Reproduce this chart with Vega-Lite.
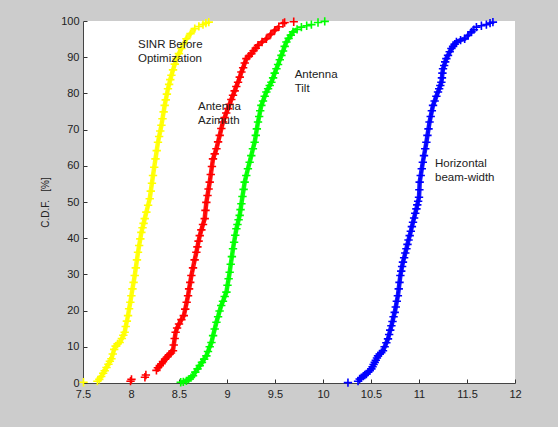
{
  "$schema": "https://vega.github.io/schema/vega-lite/v6.json",
  "width": 432,
  "height": 362,
  "autosize": {"type": "none"},
  "padding": {"left": 83, "top": 21, "right": 43, "bottom": 44},
  "background": "#cccccc",
  "config": {
    "view": {"fill": "white", "stroke": null},
    "font": "Liberation Sans",
    "axis": {
      "grid": false,
      "domainColor": "#444444",
      "tickColor": "#333333",
      "tickSize": -4,
      "labelColor": "#222222",
      "labelFont": "Liberation Sans",
      "labelFontSize": 11,
      "titleFont": "Liberation Sans",
      "titleFontSize": 10,
      "titleFontWeight": "normal",
      "titleColor": "#222222"
    }
  },
  "datasets": {
    "sinr": [
      {"x":7.505,"y":0.2},{"x":7.65,"y":0.5},{"x":7.67,"y":1.0},{"x":7.69,"y":1.8},{"x":7.71,"y":2.7},{"x":7.726,"y":3.4},{"x":7.745,"y":4.3},{"x":7.765,"y":5.2},{"x":7.78,"y":6.0},{"x":7.796,"y":6.7},{"x":7.81,"y":8.0},{"x":7.825,"y":9.3},{"x":7.84,"y":10.2},{"x":7.86,"y":10.8},{"x":7.882,"y":11.2},{"x":7.905,"y":12.3},{"x":7.92,"y":13.2},{"x":7.934,"y":14.0},{"x":7.945,"y":15.6},{"x":7.957,"y":17.1},{"x":7.969,"y":18.6},{"x":7.98,"y":20.5},{"x":7.993,"y":22.3},{"x":8.004,"y":24.1},{"x":8.015,"y":26.0},{"x":8.027,"y":27.8},{"x":8.039,"y":29.7},{"x":8.05,"y":31.8},{"x":8.062,"y":34.0},{"x":8.073,"y":36.1},{"x":8.085,"y":38.0},{"x":8.097,"y":39.8},{"x":8.108,"y":41.6},{"x":8.12,"y":42.9},{"x":8.131,"y":44.1},{"x":8.143,"y":45.4},{"x":8.16,"y":47.2},{"x":8.178,"y":49.1},{"x":8.195,"y":50.9},{"x":8.206,"y":53.0},{"x":8.218,"y":55.2},{"x":8.229,"y":57.3},{"x":8.242,"y":59.6},{"x":8.255,"y":61.9},{"x":8.268,"y":64.2},{"x":8.281,"y":66.5},{"x":8.293,"y":68.1},{"x":8.305,"y":69.6},{"x":8.317,"y":71.2},{"x":8.328,"y":73.0},{"x":8.34,"y":74.9},{"x":8.351,"y":76.7},{"x":8.362,"y":78.2},{"x":8.374,"y":79.8},{"x":8.385,"y":81.3},{"x":8.397,"y":82.5},{"x":8.409,"y":83.8},{"x":8.421,"y":85.0},{"x":8.438,"y":86.5},{"x":8.456,"y":88.1},{"x":8.473,"y":89.6},{"x":8.499,"y":91.0},{"x":8.525,"y":92.4},{"x":8.551,"y":93.8},{"x":8.577,"y":95.1},{"x":8.62,"y":96.5},{"x":8.664,"y":97.9},{"x":8.707,"y":98.5},{"x":8.75,"y":99.0},{"x":8.78,"y":99.4},{"x":8.81,"y":99.7}
    ],
    "azimuth": [
      {"x":7.995,"y":0.5},{"x":8.005,"y":1.0},{"x":8.145,"y":1.6},{"x":8.155,"y":2.2},{"x":8.265,"y":3.5},{"x":8.28,"y":4.2},{"x":8.3,"y":4.8},{"x":8.318,"y":5.3},{"x":8.333,"y":5.9},{"x":8.355,"y":6.6},{"x":8.375,"y":7.2},{"x":8.395,"y":7.8},{"x":8.417,"y":8.3},{"x":8.4375,"y":8.9},{"x":8.445,"y":10.5},{"x":8.455,"y":12.3},{"x":8.465,"y":14.0},{"x":8.48,"y":15.2},{"x":8.5,"y":16.3},{"x":8.525,"y":17.5},{"x":8.55,"y":18.6},{"x":8.565,"y":20.4},{"x":8.58,"y":22.3},{"x":8.594,"y":24.1},{"x":8.605,"y":26.0},{"x":8.617,"y":27.8},{"x":8.629,"y":29.7},{"x":8.646,"y":31.8},{"x":8.663,"y":34.0},{"x":8.681,"y":36.1},{"x":8.692,"y":37.6},{"x":8.704,"y":39.2},{"x":8.716,"y":40.7},{"x":8.733,"y":42.3},{"x":8.75,"y":43.8},{"x":8.768,"y":45.4},{"x":8.776,"y":47.7},{"x":8.785,"y":49.9},{"x":8.797,"y":51.8},{"x":8.808,"y":53.6},{"x":8.82,"y":55.5},{"x":8.831,"y":57.6},{"x":8.843,"y":59.8},{"x":8.854,"y":61.9},{"x":8.872,"y":63.3},{"x":8.89,"y":64.7},{"x":8.907,"y":66.6},{"x":8.924,"y":68.4},{"x":8.941,"y":70.3},{"x":8.958,"y":72.1},{"x":8.975,"y":73.3},{"x":8.992,"y":74.6},{"x":9.01,"y":75.8},{"x":9.027,"y":77.0},{"x":9.045,"y":78.3},{"x":9.0625,"y":79.5},{"x":9.08,"y":80.7},{"x":9.097,"y":81.9},{"x":9.115,"y":83.1},{"x":9.133,"y":84.5},{"x":9.15,"y":85.9},{"x":9.168,"y":87.1},{"x":9.185,"y":88.4},{"x":9.202,"y":89.6},{"x":9.228,"y":90.3},{"x":9.254,"y":91.0},{"x":9.277,"y":91.8},{"x":9.3,"y":92.5},{"x":9.323,"y":93.3},{"x":9.365,"y":94.2},{"x":9.41,"y":95.1},{"x":9.455,"y":96.3},{"x":9.497,"y":97.4},{"x":9.54,"y":98.4},{"x":9.583,"y":99.3},{"x":9.6,"y":99.6},{"x":9.695,"y":99.8}
    ],
    "tilt": [
      {"x":8.518,"y":0.2},{"x":8.545,"y":0.3},{"x":8.577,"y":0.6},{"x":8.6,"y":1.0},{"x":8.625,"y":1.5},{"x":8.646,"y":2.0},{"x":8.67,"y":3.0},{"x":8.693,"y":3.9},{"x":8.716,"y":4.8},{"x":8.739,"y":5.7},{"x":8.762,"y":6.6},{"x":8.785,"y":7.5},{"x":8.802,"y":8.7},{"x":8.82,"y":10.0},{"x":8.838,"y":11.2},{"x":8.855,"y":13.1},{"x":8.872,"y":14.9},{"x":8.89,"y":16.8},{"x":8.907,"y":18.3},{"x":8.923,"y":19.9},{"x":8.94,"y":21.4},{"x":8.958,"y":22.6},{"x":8.976,"y":23.9},{"x":8.994,"y":25.1},{"x":9.005,"y":27.0},{"x":9.017,"y":28.8},{"x":9.028,"y":30.6},{"x":9.039,"y":32.8},{"x":9.051,"y":34.9},{"x":9.0625,"y":37.1},{"x":9.074,"y":38.9},{"x":9.086,"y":40.8},{"x":9.098,"y":42.6},{"x":9.109,"y":43.8},{"x":9.121,"y":45.1},{"x":9.132,"y":46.3},{"x":9.141,"y":47.9},{"x":9.15,"y":49.5},{"x":9.161,"y":51.5},{"x":9.173,"y":53.5},{"x":9.184,"y":55.5},{"x":9.201,"y":57.3},{"x":9.218,"y":59.2},{"x":9.236,"y":61.0},{"x":9.253,"y":62.8},{"x":9.27,"y":64.7},{"x":9.288,"y":66.5},{"x":9.3,"y":68.4},{"x":9.311,"y":70.2},{"x":9.323,"y":72.1},{"x":9.335,"y":73.6},{"x":9.346,"y":75.2},{"x":9.358,"y":76.7},{"x":9.375,"y":77.9},{"x":9.393,"y":79.2},{"x":9.41,"y":80.4},{"x":9.428,"y":81.3},{"x":9.445,"y":82.2},{"x":9.4625,"y":83.1},{"x":9.48,"y":84.3},{"x":9.497,"y":85.6},{"x":9.515,"y":86.8},{"x":9.532,"y":88.0},{"x":9.55,"y":89.3},{"x":9.567,"y":90.5},{"x":9.584,"y":91.7},{"x":9.601,"y":93.0},{"x":9.619,"y":94.2},{"x":9.642,"y":95.2},{"x":9.665,"y":96.1},{"x":9.6875,"y":97.0},{"x":9.73,"y":97.7},{"x":9.775,"y":98.3},{"x":9.83,"y":98.7},{"x":9.879,"y":99.0},{"x":9.948,"y":99.6},{"x":10.018,"y":99.9}
    ],
    "hbw": [
      {"x":10.26,"y":0.1},{"x":10.365,"y":0.5},{"x":10.382,"y":1.1},{"x":10.4,"y":1.5},{"x":10.42,"y":1.9},{"x":10.435,"y":2.2},{"x":10.452,"y":2.5},{"x":10.47,"y":3.0},{"x":10.487,"y":3.4},{"x":10.504,"y":3.9},{"x":10.516,"y":4.5},{"x":10.527,"y":5.1},{"x":10.539,"y":5.7},{"x":10.55,"y":6.3},{"x":10.562,"y":6.9},{"x":10.573,"y":7.5},{"x":10.59,"y":8.0},{"x":10.607,"y":8.4},{"x":10.625,"y":8.9},{"x":10.642,"y":10.0},{"x":10.66,"y":11.1},{"x":10.677,"y":12.2},{"x":10.689,"y":13.4},{"x":10.7,"y":14.6},{"x":10.7125,"y":15.8},{"x":10.724,"y":17.0},{"x":10.735,"y":18.3},{"x":10.747,"y":19.5},{"x":10.758,"y":21.0},{"x":10.769,"y":22.6},{"x":10.78,"y":24.1},{"x":10.789,"y":26.0},{"x":10.797,"y":27.8},{"x":10.806,"y":29.7},{"x":10.815,"y":30.9},{"x":10.824,"y":32.2},{"x":10.833,"y":33.4},{"x":10.845,"y":34.6},{"x":10.857,"y":35.9},{"x":10.869,"y":37.1},{"x":10.88,"y":38.3},{"x":10.891,"y":39.5},{"x":10.903,"y":40.7},{"x":10.915,"y":41.9},{"x":10.926,"y":43.2},{"x":10.9375,"y":44.4},{"x":10.949,"y":45.6},{"x":10.961,"y":46.9},{"x":10.973,"y":48.1},{"x":10.982,"y":49.2},{"x":10.991,"y":50.2},{"x":11.0,"y":51.3},{"x":11.004,"y":53.4},{"x":11.007,"y":55.5},{"x":11.018,"y":57.3},{"x":11.029,"y":59.2},{"x":11.04,"y":61.0},{"x":11.052,"y":62.8},{"x":11.065,"y":64.7},{"x":11.077,"y":66.5},{"x":11.088,"y":68.4},{"x":11.099,"y":70.2},{"x":11.11,"y":72.1},{"x":11.122,"y":73.6},{"x":11.134,"y":75.2},{"x":11.146,"y":76.7},{"x":11.163,"y":77.9},{"x":11.181,"y":79.2},{"x":11.198,"y":80.4},{"x":11.21,"y":81.3},{"x":11.222,"y":82.2},{"x":11.233,"y":83.1},{"x":11.239,"y":84.3},{"x":11.244,"y":85.6},{"x":11.25,"y":86.8},{"x":11.262,"y":87.7},{"x":11.273,"y":88.7},{"x":11.285,"y":89.6},{"x":11.302,"y":90.5},{"x":11.32,"y":91.5},{"x":11.3375,"y":92.4},{"x":11.355,"y":93.0},{"x":11.372,"y":93.6},{"x":11.39,"y":94.2},{"x":11.433,"y":94.7},{"x":11.476,"y":95.1},{"x":11.51,"y":96.0},{"x":11.546,"y":97.0},{"x":11.572,"y":97.6},{"x":11.598,"y":98.3},{"x":11.65,"y":98.7},{"x":11.702,"y":99.0},{"x":11.74,"y":99.4},{"x":11.77,"y":99.7}
    ],
    "notes": [
      {"x":8.073,"y":93.5,"t":["SINR Before","Optimization"]},
      {"x":8.698,"y":76.2,"t":["Antenna","Azimuth"]},
      {"x":9.705,"y":85.2,"t":["Antenna","Tilt"]},
      {"x":11.167,"y":60.6,"t":["Horizontal","beam-width"]}
    ]
  },
  "encoding": {
    "x": {
      "field": "x", "type": "quantitative",
      "scale": {"domain": [7.5, 12], "nice": false, "zero": false},
      "axis": {"title": null, "values": [7.5, 8, 8.5, 9, 9.5, 10, 10.5, 11, 11.5, 12], "format": ".1~f", "labelPadding": 9, "labelFlush": false}
    },
    "y": {
      "field": "y", "type": "quantitative",
      "scale": {"domain": [0, 100], "nice": false},
      "axis": {"title": "C.D.F.\u00a0\u00a0\u00a0[%]", "values": [0, 10, 20, 30, 40, 50, 60, 70, 80, 90, 100], "format": "d", "labelPadding": 8, "titlePadding": 10, "labelFlush": false}
    }
  },
  "layer": [
    {"data": {"name": "sinr"}, "transform": [{"filter": "datum.x > 7.6 && datum.y < 98"}], "mark": {"type": "line", "stroke": "#ffff00", "strokeWidth": 4.5, "opacity": 0.9}},
    {"data": {"name": "azimuth"}, "transform": [{"filter": "datum.y >= 3.5 && datum.y < 99"}], "mark": {"type": "line", "stroke": "#ff0000", "strokeWidth": 4.5, "opacity": 0.9}},
    {"data": {"name": "tilt"}, "transform": [{"filter": "datum.y < 98"}], "mark": {"type": "line", "stroke": "#00ff00", "strokeWidth": 4.5, "opacity": 0.9}},
    {"data": {"name": "hbw"}, "transform": [{"filter": "datum.x > 10.3 && datum.y < 98"}], "mark": {"type": "line", "stroke": "#0000ff", "strokeWidth": 4.5, "opacity": 0.9}},
    {"data": {"name": "sinr"}, "mark": {"type": "point", "shape": "M-1,0H1M0,-1V1", "size": 70, "filled": false, "stroke": "#ffff00", "strokeWidth": 1.6, "opacity": 1, "clip": false}},
    {"data": {"name": "azimuth"}, "mark": {"type": "point", "shape": "M-1,0H1M0,-1V1", "size": 70, "filled": false, "stroke": "#ff0000", "strokeWidth": 1.6, "opacity": 1, "clip": false}},
    {"data": {"name": "tilt"}, "mark": {"type": "point", "shape": "M-1,0H1M0,-1V1", "size": 70, "filled": false, "stroke": "#00ff00", "strokeWidth": 1.6, "opacity": 1, "clip": false}},
    {"data": {"name": "hbw"}, "mark": {"type": "point", "shape": "M-1,0H1M0,-1V1", "size": 70, "filled": false, "stroke": "#0000ff", "strokeWidth": 1.6, "opacity": 1, "clip": false}},
    {"data": {"name": "notes"}, "mark": {"type": "text", "align": "left", "baseline": "middle", "fontSize": 11.5, "lineHeight": 14, "color": "#222222", "font": "Liberation Sans"}, "encoding": {"text": {"field": "t"}}}
  ]
}
